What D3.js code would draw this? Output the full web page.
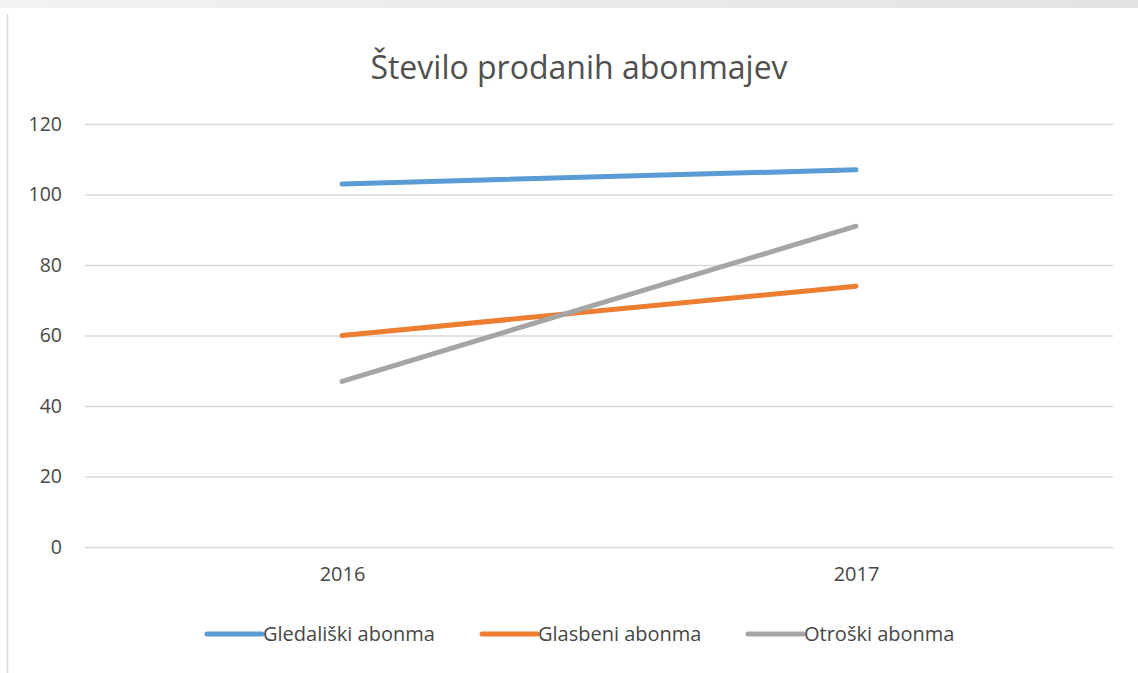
<!DOCTYPE html>
<html>
<head>
<meta charset="utf-8">
<script src="https://cdn.jsdelivr.net/npm/d3@7"></script>
<style>
  body { margin: 0; background: #fff; }
  svg, svg text { font-family: "Open Sans", "Noto Sans", sans-serif; }
  svg { display: block; }
</style>
</head>
<body>
<svg class="chart"></svg>
<script>
// Data
var years = ["2016", "2017"];
var seriesNames = ["Gledališki abonma", "Glasbeni abonma", "Otroški abonma"];
var gledaliski = [103, 107];
var glasbeni = [60, 74];
var otroski = [47, 91];
var yTicks = [0, 20, 40, 60, 80, 100, 120];
var colors = ["#5b9bd5", "#ed7d31", "#a5a5a5"];

var series = [gledaliski, glasbeni, otroski].map(function (vals, i) {
    return { name: seriesNames[i], color: colors[i], values: vals };
});

var W = 1138, H = 673;
var margin = { top: 124, right: 25, bottom: 126, left: 85 },
    width = W - margin.left - margin.right,
    height = H - margin.top - margin.bottom;

var svg = d3.select(".chart").attr("width", W).attr("height", H);

// page decoration: top grey band and left border line
var grad = svg.append("defs").append("linearGradient").attr("id", "topband");
grad.append("stop").attr("offset", "0%").attr("stop-color", "#f2f2f2");
grad.append("stop").attr("offset", "100%").attr("stop-color", "#e3e3e3");
svg.append("rect").attr("x", 0).attr("y", 0).attr("width", W).attr("height", 8)
    .attr("fill", "url(#topband)");
svg.append("line").attr("x1", 7.5).attr("x2", 7.5).attr("y1", 14).attr("y2", H)
    .attr("stroke", "#dcdcdc").attr("stroke-width", 1.5);

// title
svg.append("text")
    .attr("x", 579)
    .attr("y", 79)
    .attr("text-anchor", "middle")
    .attr("fill", "#505050")
    .style("font-size", "32px")
    .text("Število prodanih abonmajev");

var chart = svg.append("g")
    .attr("transform", "translate(" + margin.left + "," + margin.top + ")");

var x = d3.scalePoint().domain(years).range([0, width]).padding(0.5);
var y = d3.scaleLinear().domain([0, 120]).range([height, 0]);

// gridlines + y labels
var yAxis = d3.axisLeft(y).tickValues(yTicks).tickSize(-width).tickPadding(23);
var gy = chart.append("g").attr("class", "y axis").call(yAxis)
    .attr("font-family", null);
gy.select(".domain").remove();
gy.selectAll(".tick line").attr("stroke", "#d9d9d9").attr("stroke-width", 1.3);
gy.selectAll(".tick text").attr("fill", "#474747").style("font-size", "19.5px");

// x labels
var xAxis = d3.axisBottom(x).tickSize(0).tickPadding(20);
var gx = chart.append("g").attr("class", "x axis")
    .attr("transform", "translate(0," + height + ")").call(xAxis)
    .attr("font-family", null);
gx.select(".domain").remove();
gx.selectAll(".tick text").attr("fill", "#474747").style("font-size", "20px");

// lines
var line = d3.line()
    .x(function (d, i) { return x(years[i]); })
    .y(function (d) { return y(d); });

chart.selectAll(".series")
    .data(series)
    .enter().append("path")
    .attr("class", "series")
    .attr("d", function (d) { return line(d.values); })
    .attr("fill", "none")
    .attr("stroke", function (d) { return d.color; })
    .attr("stroke-width", 5)
    .attr("stroke-linecap", "round");

// legend
var legendX = [207, 482, 748];
var legend = svg.selectAll(".legend")
    .data(series)
    .enter().append("g")
    .attr("class", "legend")
    .attr("transform", function (d, i) { return "translate(" + legendX[i] + ",634)"; });
legend.append("line")
    .attr("x1", 0).attr("x2", 55).attr("y1", 0).attr("y2", 0)
    .attr("stroke", function (d) { return d.color; })
    .attr("stroke-width", 5)
    .attr("stroke-linecap", "round");
legend.append("text")
    .attr("x", 56)
    .attr("y", 7)
    .attr("fill", "#474747")
    .style("font-size", "20px")
    .text(function (d) { return d.name; });
</script>
</body>
</html>
